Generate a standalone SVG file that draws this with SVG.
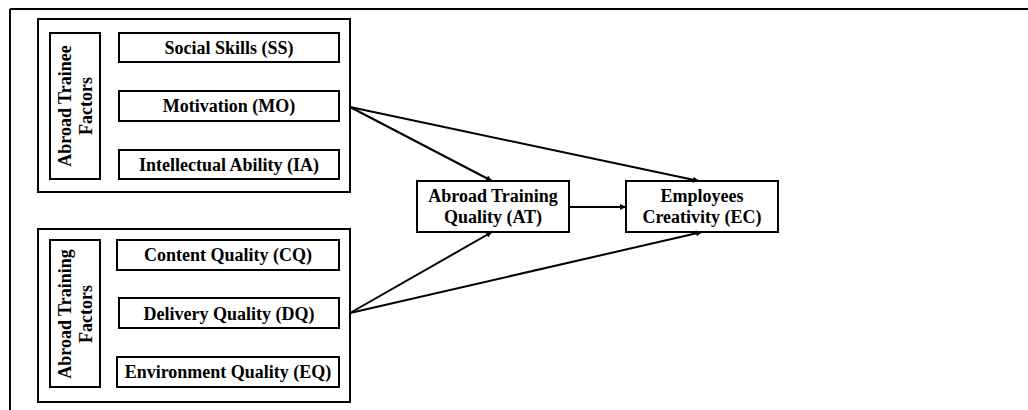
<svg xmlns="http://www.w3.org/2000/svg" width="1028" height="410" viewBox="0 0 1028 410">
<defs>
<marker id="ah" viewBox="0 0 10 10" refX="10" refY="5" markerWidth="8" markerHeight="6" markerUnits="userSpaceOnUse" orient="auto">
<path d="M0,0 L10,5 L0,10 z" fill="#000"/>
</marker>
<style>
.box{fill:#fff;stroke:#000;stroke-width:2}
.t{font-family:"Liberation Serif","Times New Roman",serif;font-weight:bold;font-size:18px;fill:#000;text-anchor:middle}
.c{fill:none;stroke:#000;stroke-width:2;marker-end:url(#ah)}
</style>
</defs>
<rect width="1028" height="410" fill="#fff"/>
<g id="frame">
<path d="M10,9 H1028 M10,9 V410" fill="none" stroke="#000" stroke-width="2"/>
</g>
<g id="trainee-group">
<rect class="box" x="38" y="19" width="312" height="173"/>
<rect class="box" x="50" y="33" width="50" height="146"/>
<g transform="translate(75,106) rotate(-90)">
<text class="t" x="0" y="-4">Abroad Trainee</text>
<text class="t" x="0" y="17">Factors</text>
</g>
</g>
<g id="SS"><rect class="box" x="119" y="33" width="220" height="29"/><text class="t" x="229" y="54">Social Skills (SS)</text></g>
<g id="MO"><rect class="box" x="119" y="91" width="220" height="30"/><text class="t" x="229" y="112">Motivation (MO)</text></g>
<g id="IA"><rect class="box" x="119" y="150" width="220" height="29"/><text class="t" x="229" y="170.5">Intellectual Ability (IA)</text></g>
<g id="training-group">
<rect class="box" x="38" y="229" width="312" height="173"/>
<rect class="box" x="50" y="240" width="50" height="147"/>
<g transform="translate(75,314) rotate(-90)">
<text class="t" x="0" y="-4">Abroad Training</text>
<text class="t" x="0" y="17">Factors</text>
</g>
</g>
<g id="CQ"><rect class="box" x="117" y="240" width="222" height="30"/><text class="t" x="228" y="261">Content Quality (CQ)</text></g>
<g id="DQ"><rect class="box" x="119" y="298" width="220" height="30"/><text class="t" x="229" y="319.5">Delivery Quality (DQ)</text></g>
<g id="EQ"><rect class="box" x="117" y="357" width="222" height="30"/><text class="t" x="228" y="378">Environment Quality (EQ)</text></g>
<g id="AT"><rect class="box" x="417" y="181" width="152" height="51"/><text class="t" x="493" y="202">Abroad Training</text><text class="t" x="493" y="223">Quality (AT)</text></g>
<g id="EC"><rect class="box" x="626" y="181" width="152" height="51"/><text class="t" x="702" y="202">Employees</text><text class="t" x="702" y="223">Creativity (EC)</text></g>
<g id="connectors">
<line class="c" x1="350" y1="107" x2="492" y2="181"/>
<line class="c" x1="350" y1="107" x2="699" y2="181"/>
<line class="c" x1="350" y1="313" x2="492" y2="232"/>
<line class="c" x1="350" y1="313" x2="702" y2="232"/>
<line class="c" x1="569" y1="207" x2="626" y2="207"/>
</g>
</svg>
